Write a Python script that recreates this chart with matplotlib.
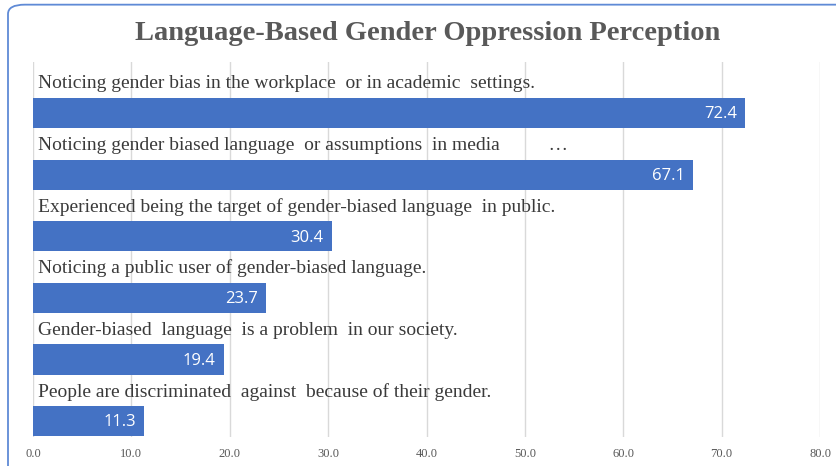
import matplotlib
matplotlib.use("Agg")
import matplotlib.pyplot as plt
from matplotlib.patches import FancyBboxPatch

# survey items, top to bottom
items = [
    "Noticing gender bias in the workplace  or in academic  settings.",
    "Noticing gender biased language  or assumptions  in media          \u2026",
    "Experienced being the target of gender-biased language  in public.",
    "Noticing a public user of gender-biased language.",
    "Gender-biased  language  is a problem  in our society.",
    "People are discriminated  against  because of their gender.",
]
percent = [72.4, 67.1, 30.4, 23.7, 19.4, 11.3]
xticks = [0, 10, 20, 30, 40, 50, 60, 70, 80]

BAR_BLUE = "#4472C4"
GRID = "#D9D9D9"

fig = plt.figure(figsize=(8.36, 4.66), dpi=100)
ax = fig.add_axes([33 / 836, 29 / 466, 787 / 836, 375 / 466])

# rounded chart-area frame, running off the right and bottom edges
frame = FancyBboxPatch((8 / 836, -0.2), 1.2, 1.19, transform=fig.transFigure,
                       boxstyle="round,pad=0,rounding_size=0.02",
                       facecolor="none", edgecolor="#5F8AD6", linewidth=1.3,
                       clip_on=False)
fig.patches.append(frame)

pos = list(range(len(items)))
ax.barh(pos, percent, height=0.49, color=BAR_BLUE, zorder=2)

for y, name, v in zip(pos, items, percent):
    ax.annotate(name, xy=(0, y - 0.5), xytext=(3.5, -1), textcoords="offset points",
                ha="left", va="center", fontsize=14, family="Liberation Serif",
                color="#3A3A3A", zorder=3)
    ax.annotate(f"{v:.1f}", xy=(v, y), xytext=(-6, -1), textcoords="offset points",
                ha="right", va="center", fontsize=12, family="Open Sans",
                color="white", zorder=3)

ax.set_xlim(0, 80)
ax.set_ylim(5.26, -0.83)
ax.set_xticks(xticks)
ax.set_xticklabels([f"{t:.1f}" for t in xticks], family="Liberation Serif",
                   fontsize=9, color="#595959")
ax.tick_params(axis="x", length=0, pad=8)
ax.set_yticks([])
ax.grid(axis="x", color=GRID, linewidth=1, zorder=0)
for s in ax.spines.values():
    s.set_visible(False)

fig.text(428 / 836, 1 - 33 / 466, "Language-Based Gender Oppression Perception",
         ha="center", va="center", fontsize=20.5, fontweight="bold",
         family="Liberation Serif", color="#595959")

fig.savefig("out.png", dpi=100)
